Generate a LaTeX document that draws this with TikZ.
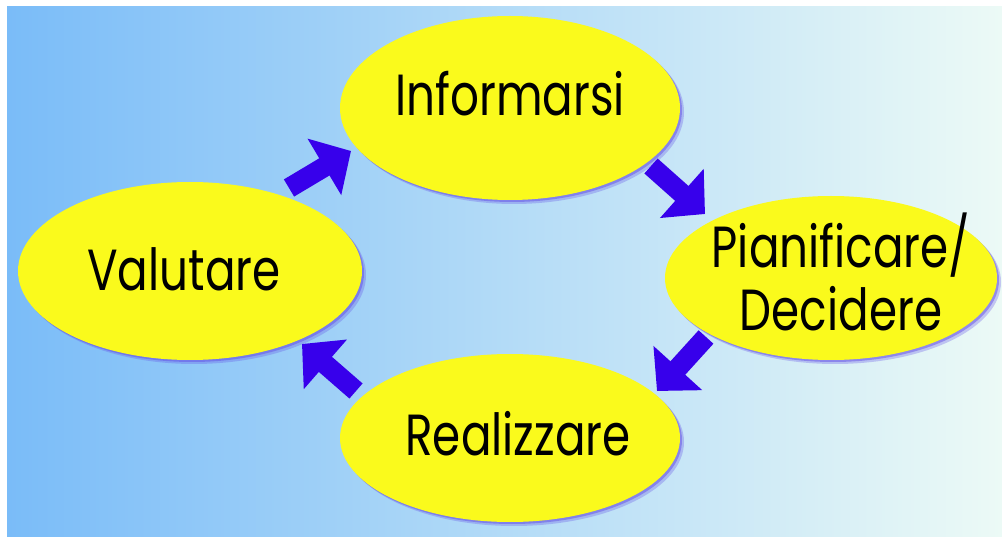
\documentclass[tikz,border=0pt]{standalone}
\usepackage{fontspec}
\setmainfont{Poppins}[FakeStretch=0.78]
\usetikzlibrary{arrows.meta,shapes.geometric}
\definecolor{bgL}{RGB}{122,188,248}
\definecolor{bgR}{RGB}{236,250,246}
\definecolor{ovalY}{RGB}{250,250,28}
\definecolor{arrB}{RGB}{55,0,235}
\definecolor{shadowB}{RGB}{100,80,230}
\begin{document}
\begin{tikzpicture}[x=1pt,y=-1pt,
  oval/.style={ellipse, fill=ovalY, inner sep=0pt,
    preaction={fill=shadowB, opacity=0.3, transform canvas={shift={(4pt,-4pt)}}},
    preaction={fill=shadowB, opacity=0.5, transform canvas={shift={(2pt,-2pt)}}}},
  txt/.style={font=\fontsize{58}{63}\selectfont, text=black, align=center, inner sep=0pt},
  flow/.style={draw=arrB, line width=20pt, -{Triangle[width=64pt,length=31pt]}}]
\useasboundingbox (0,0) rectangle (1002,537);
\fill[left color=bgL, right color=bgR] (7,7) rectangle (1002,537);
\node[oval, minimum width=340pt, minimum height=184pt,
  label={[txt,yshift=14pt]center:Informarsi}] (inf) at (510,108) {};
\node[oval, minimum width=344pt, minimum height=178pt,
  label={[txt,yshift=2pt,xshift=-6pt]center:Valutare}] (val) at (190,271) {};
\node[oval, minimum width=332pt, minimum height=164pt,
  label={[txt,yshift=6pt,xshift=10pt]center:Pianificare/\\Decidere}] (pia) at (831,278) {};
\node[oval, minimum width=340pt, minimum height=168pt,
  label={[txt,yshift=4pt,xshift=8pt]center:Realizzare}] (rea) at (510,438) {};
\coordinate (a1s) at (289,188); \coordinate (a1e) at (351,151);
\coordinate (a2s) at (651,166); \coordinate (a2e) at (705,214);
\coordinate (a3s) at (706,337); \coordinate (a3e) at (657,391);
\coordinate (a4s) at (356,391); \coordinate (a4e) at (302,344);
\draw[flow] (a1s) -- (a1e);
\draw[flow] (a2s) -- (a2e);
\draw[flow] (a3s) -- (a3e);
\draw[flow] (a4s) -- (a4e);
\end{tikzpicture}
\end{document}
